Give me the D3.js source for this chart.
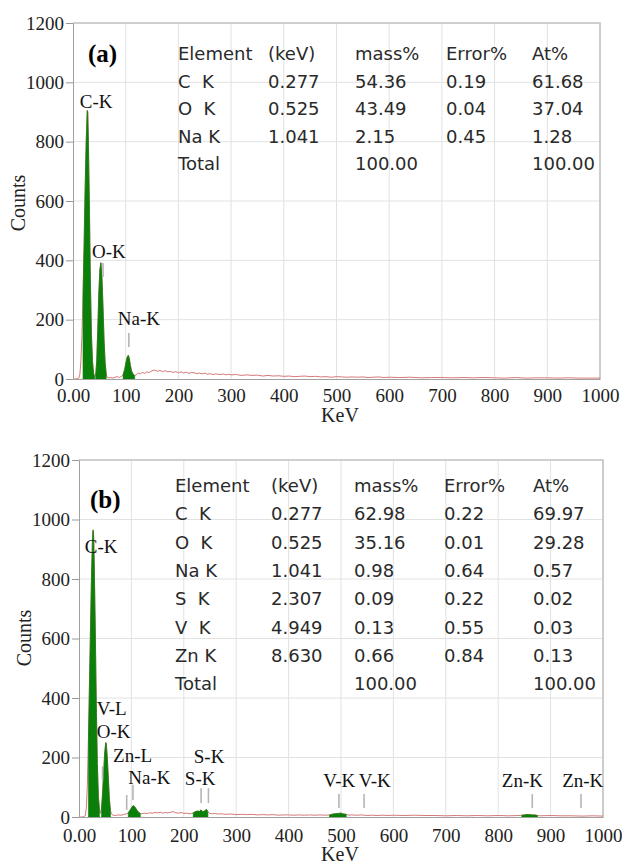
<!DOCTYPE html>
<html lang="en">
<head>
  <meta charset="UTF-8">
  <title>EDS spectra</title>
  <style>
    body { margin: 0; background: #fff; }
    svg { display: block; }
    .tick text { font-family: "Liberation Serif", "Times New Roman", serif; fill: #222; }
    .tbl { font-family: "DejaVu Sans", sans-serif; font-size: 18px; fill: #2a2a2a; white-space: pre; }
    .pk { font-family: "Liberation Serif", serif; font-size: 19px; fill: #111; }
    .ttl { font-family: "Liberation Serif", serif; font-size: 20px; fill: #222; }
  </style>
  <script src="https://d3js.org/d3.v7.min.js"></script>
</head>
<body>
<div id="chart"></div>
<script>
// ---- data ----
const xTicks = [0, 100, 200, 300, 400, 500, 600, 700, 800, 900, 1000];
const yTicks = [0, 200, 400, 600, 800, 1000, 1200];
const tableHeader = ["Element", "(keV)", "mass%", "Error%", "At%"];

// [channel, counts]
const spectrumA = [
  [0,0],[4,0],[8,1],[11,3],[13,15],[15,60],[17,150],[19,280],[21,450],[23,640],[25,800],[27,905],[28,900],
  [29,820],[31,600],[33,330],[35,150],[37,60],[39,20],[41,8],[43,12],[45,60],[47,170],[49,290],[51,370],
  [53,392],[55,340],[57,240],[59,130],[61,55],[63,18],[65,6],[68,4],[72,5],[76,3],[80,6],[84,8],[88,5],
  [92,9],[95,14],[98,32],[101,60],[103,75],[105,80],[107,68],[109,45],[111,28],[114,16],[117,12],[120,14],
  [124,20],[128,18],[132,22],[136,19],[140,24],[145,22],[150,28],[155,30],[160,26],[165,29],[170,25],
  [175,28],[180,24],[185,26],[190,22],[195,25],[200,21],[205,24],[210,20],[215,23],[220,19],[225,22],
  [230,21],[235,18],[240,20],[245,17],[250,20],[255,16],[260,18],[265,15],[270,17],[275,16],[280,15],
  [285,17],[290,14],[295,16],[300,14],[310,15],[320,12],[330,14],[340,12],[350,13],[360,10],[370,12],
  [380,10],[390,11],[400,9],[410,10],[420,8],[430,9],[440,10],[450,8],[460,9],[470,7],[480,8],[490,6],
  [500,8],[510,7],[520,6],[530,7],[540,6],[550,7],[560,5],[570,6],[580,7],[590,5],[600,6],[620,5],
  [640,6],[660,4],[680,5],[700,5],[720,4],[740,5],[760,4],[780,5],[800,4],[820,3],[840,5],[860,3],
  [880,4],[900,4],[920,3],[940,4],[960,3],[980,3],[1000,3]
];
const roiA = [[18, 41], [43, 64], [95, 117]];
// [label, channel, counts] of label anchor
const peakLabelsA = [["C-K", 13, 913], ["O-K", 36, 408], ["Na-K", 85, 182]];
// [channel, top counts, bottom counts]
const markersA = [[57, 391, 344], [106, 155, 108]];
const tableA = [
  ["C  K", "0.277", "54.36", "0.19", "61.68"],
  ["O  K", "0.525", "43.49", "0.04", "37.04"],
  ["Na K", "1.041", "2.15", "0.45", "1.28"],
  ["Total", "", "100.00", "", "100.00"]
];

const spectrumB = [
  [0,0],[5,0],[9,1],[12,4],[14,30],[16,110],[18,260],[20,450],[22,640],[24,820],[26,950],[27,965],
  [28,940],[29,860],[31,640],[33,380],[35,180],[37,70],[39,25],[41,12],[43,30],[45,80],[47,150],
  [49,215],[51,250],[52,248],[54,200],[56,130],[58,60],[60,22],[62,10],[65,6],[70,5],[75,7],[80,6],
  [85,8],[90,10],[94,14],[97,22],[100,30],[102,36],[104,38],[106,35],[108,30],[111,22],[114,15],
  [117,12],[120,11],[125,13],[130,12],[135,14],[140,13],[145,15],[150,14],[155,16],[160,13],[165,15],
  [170,14],[175,16],[180,18],[185,14],[190,13],[195,15],[200,12],[205,13],[210,11],[215,12],[218,14],
  [222,18],[226,20],[230,19],[233,24],[236,18],[240,20],[243,26],[246,18],[249,12],[255,11],[260,12],
  [265,10],[270,11],[280,9],[290,10],[300,8],[310,9],[320,8],[330,9],[340,7],[350,8],[360,7],[370,8],
  [380,6],[390,7],[400,7],[410,6],[420,7],[430,6],[440,7],[450,6],[460,7],[470,6],[478,7],[485,10],
  [490,11],[495,12],[500,13],[505,10],[510,9],[515,6],[520,7],[530,6],[540,7],[550,5],[560,6],[570,5],
  [580,6],[590,5],[600,6],[620,5],[640,6],[660,5],[680,5],[700,4],[720,5],[740,4],[760,5],[780,4],
  [800,5],[820,4],[840,5],[845,6],[850,7],[855,8],[860,8],[865,7],[870,7],[875,5],[880,4],[900,5],
  [920,4],[940,4],[960,3],[980,4],[1000,3]
];
const roiB = [[18, 40], [43, 61], [93, 117], [218, 248], [478, 513], [845, 875]];
const peakLabelsB = [
  ["C-K", 11, 887], ["V-L", 34, 343], ["O-K", 34, 266], ["Zn-L", 65, 185], ["Na-K", 94, 111],
  ["S-K", 219, 182], ["S-K", 202, 108], ["V-K", 466, 101], ["V-K", 534, 101],
  ["Zn-K", 807, 101], ["Zn-K", 922, 101]
];
const markersB = [
  [45, 170, 125], [91, 74, 24], [103, 108, 57], [233, 97, 47], [247, 97, 47],
  [496, 77, 30], [544, 77, 30], [865, 77, 30], [958, 77, 30]
];
const tableB = [
  ["C  K", "0.277", "62.98", "0.22", "69.97"],
  ["O  K", "0.525", "35.16", "0.01", "29.28"],
  ["Na K", "1.041", "0.98", "0.64", "0.57"],
  ["S  K", "2.307", "0.09", "0.22", "0.02"],
  ["V  K", "4.949", "0.13", "0.55", "0.03"],
  ["Zn K", "8.630", "0.66", "0.84", "0.13"],
  ["Total", "", "100.00", "", "100.00"]
];

// ---- drawing ----
const svg = d3.select("#chart").append("svg")
  .attr("width", 622)
  .attr("height", 866);

function drawPanel(p) {
  const g = svg.append("g");
  const x = d3.scaleLinear().domain([0, 1000]).range([p.left, p.right]);
  const y = d3.scaleLinear().domain([0, 1200]).range([p.bottom, p.top]);

  // grid
  g.selectAll(".vg").data(xTicks.slice(1)).enter().append("line")
    .attr("x1", d => x(d)).attr("x2", d => x(d))
    .attr("y1", p.top).attr("y2", p.bottom)
    .attr("stroke", "#e2e2e2").attr("stroke-width", 1);
  g.selectAll(".hg").data(yTicks.slice(1)).enter().append("line")
    .attr("x1", p.left).attr("x2", p.right)
    .attr("y1", d => y(d)).attr("y2", d => y(d))
    .attr("stroke", "#e2e2e2").attr("stroke-width", 1);

  // top/right frame
  g.append("path")
    .attr("d", `M${p.left},${y(1200)}H${x(1000)}V${y(0)}`)
    .attr("fill", "none").attr("stroke", "#c4c4c4").attr("stroke-width", 1.6);

  // table
  const tbl = g.append("g");
  [tableHeader].concat(p.table).forEach((row, i) => {
    row.forEach((cell, j) => {
      if (!cell) return;
      tbl.append("text").attr("class", "tbl")
        .attr("x", p.cols[j]).attr("y", p.rowY + i * p.rowDy)
        .text(cell);
    });
  });

  // spectrum line
  g.append("path").datum(p.spectrum)
    .attr("fill", "none").attr("stroke", "#cf6a6a").attr("stroke-width", 0.9)
    .attr("d", d3.line().x(d => x(d[0])).y(d => y(d[1])));

  // green ROI fills
  const area = d3.area().x(d => x(d[0])).y0(y(0)).y1(d => y(d[1]));
  g.selectAll(".roi").data(p.roi).enter().append("path")
    .attr("fill", "#0a800a").attr("stroke", "#0a800a").attr("stroke-width", 0.6)
    .attr("d", r => area(p.spectrum.filter(d => d[0] >= r[0] && d[0] <= r[1])));

  // markers
  g.selectAll(".mk").data(p.markers).enter().append("line")
    .attr("x1", d => x(d[0])).attr("x2", d => x(d[0]))
    .attr("y1", d => y(d[1])).attr("y2", d => y(d[2]))
    .attr("stroke", "#b5b5b5").attr("stroke-width", 1.6);

  // peak labels
  g.selectAll(".pk").data(p.labels).enter().append("text")
    .attr("class", "pk")
    .attr("x", d => x(d[1])).attr("y", d => y(d[2]))
    .text(d => d[0]);

  // axes
  const ya = g.append("g").attr("transform", `translate(${p.left},0)`)
    .call(d3.axisLeft(y).tickValues(yTicks).tickSize(7).tickPadding(2).tickSizeOuter(0)
      .tickFormat(d3.format("d")));
  ya.selectAll(".tick text").style("font-size", "19px");
  ya.selectAll(".tick line").attr("stroke", "#999");
  ya.select(".domain").attr("stroke", "#a0a0a0");

  const xa = g.append("g").attr("transform", `translate(0,${p.bottom})`)
    .call(d3.axisBottom(x).tickValues(xTicks).tickSize(0).tickPadding(p.xPad)
      .tickFormat(d => d === 0 ? "0.00" : d));
  xa.selectAll(".tick text").style("font-size", "19px");
  xa.select(".domain").attr("stroke", "#a0a0a0");

  g.append("text").attr("class", "ttl")
    .attr("x", p.xTitle[0]).attr("y", p.xTitle[1])
    .attr("text-anchor", "middle").text("KeV");
  g.append("text").attr("class", "ttl")
    .attr("transform", `translate(${p.yTitle[0]},${p.yTitle[1]}) rotate(-90)`)
    .attr("text-anchor", "middle").attr("dominant-baseline", "central")
    .text("Counts");

  g.append("text")
    .attr("x", p.tag[0]).attr("y", p.tag[1])
    .style("font-family", "'Liberation Serif', serif")
    .style("font-size", "25px").style("font-weight", "bold")
    .text(p.tagText);
}

drawPanel({
  left: 73, right: 600, top: 23, bottom: 379, xPad: 10,
  spectrum: spectrumA, roi: roiA, labels: peakLabelsA, markers: markersA,
  table: tableA, cols: [178, 268, 355, 446, 532], rowY: 60, rowDy: 27.5,
  xTitle: [340, 422], yTitle: [18, 203], tag: [88, 62], tagText: "(a)"
});

drawPanel({
  left: 79, right: 603, top: 460, bottom: 817, xPad: 12,
  spectrum: spectrumB, roi: roiB, labels: peakLabelsB, markers: markersB,
  table: tableB, cols: [175, 271, 354, 444, 533], rowY: 492, rowDy: 28.3,
  xTitle: [340, 861], yTitle: [24, 638], tag: [90, 508], tagText: "(b)"
});
</script>
</body>
</html>
